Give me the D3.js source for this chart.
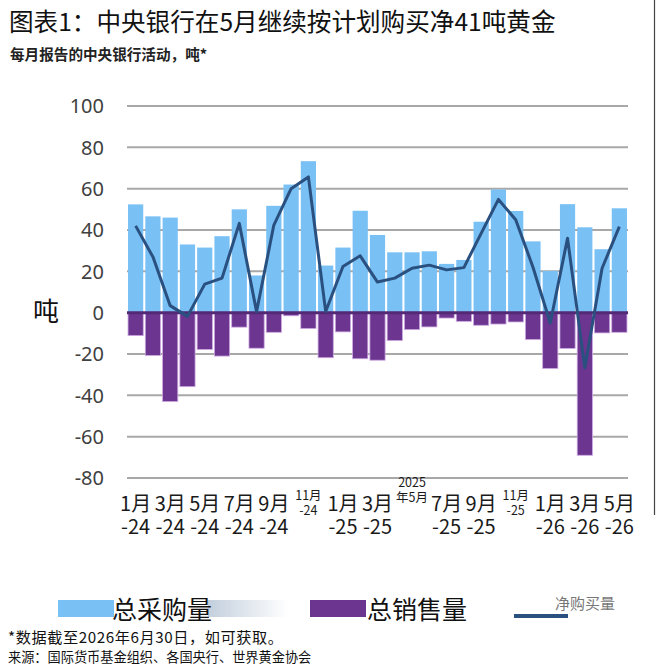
<!DOCTYPE html>
<html lang="zh-CN">
<head>
  <meta charset="utf-8">
  <title>图表1</title>
  <script src="https://d3js.org/d3.v7.min.js"></script>
  <style>
    body { margin: 0; background: #fff; }
    svg { display: block; font-family: "Noto Sans CJK SC", "Noto Sans", sans-serif; }
    .grid line { stroke: #a8a8a8; stroke-width: 2px; }
    .ytick { font-size: 20px; fill: #404040; font-family: "Noto Sans", "Noto Sans CJK SC", sans-serif; }
    .xlab { fill: #1a1a1a; text-anchor: middle; }
  </style>
</head>
<body>
<svg width="660" height="667"></svg>
<script>
// dados (toneladas por mes)
var meses = ["2024-01","2024-02","2024-03","2024-04","2024-05","2024-06","2024-07","2024-08","2024-09","2024-10","2024-11","2024-12",
             "2025-01","2025-02","2025-03","2025-04","2025-05","2025-06","2025-07","2025-08","2025-09","2025-10","2025-11","2025-12",
             "2026-01","2026-02","2026-03","2026-04","2026-05"];
var compras = [52.4, 46.6, 46, 33, 31.5, 37, 50, 18, 51.7, 62, 73.3, 22.8,
               31.5, 49.3, 37.6, 29.2, 29.2, 29.7, 23.6, 25.5, 44, 59.6, 49.2, 34.5,
               20.2, 52.5, 41.3, 30.7, 50.5];
var vendas = [-11.1, -20.7, -43, -35.8, -17.8, -21, -7, -17.2, -9.5, -1.5, -7.7, -21.8,
              -9.3, -22.3, -23, -13.5, -8.2, -6.9, -2.6, -4.2, -6.1, -5.5, -4.5, -13,
              -27, -17.3, -69, -9.8, -9.5];
var liquido = [42, 27, 3.4, -1.8, 13.8, 16.7, 43.2, 0.5, 42.4, 60, 65.7, 0.6,
               22.3, 27.5, 14.8, 16.7, 21.5, 23, 20.7, 21.8, 38.4, 54.8, 45, 22,
               -5, 36, -26.7, 21.5, 41.6];
var yTicks = [-80, -60, -40, -20, 0, 20, 40, 60, 80, 100];

// rotulos do eixo x
var rotMes = ["2024-01","2024-03","2024-05","2024-07","2024-09","2025-01","2025-03","2025-07","2025-09","2026-01","2026-03","2026-05"];
var rotL1 = ["1月","3月","5月","7月","9月","1月","3月","7月","9月","1月","3月","5月"];
var rotL2 = ["-24","-24","-24","-24","-24","-25","-25","-25","-25","-26","-26","-26"];
var rotPeqMes = ["2024-11","2025-05","2025-11"];
var rotPeqL1 = ["11月","2025","11月"];
var rotPeqL2 = ["-24","年5月","-25"];

var titulo = "图表1：中央银行在5月继续按计划购买净41吨黄金";
var subtitulo = "每月报告的中央银行活动，吨*";
var legendas = ["总采购量", "总销售量", "净购买量"];
var notas = ["*数据截至2026年6月30日，如可获取。", "来源：国际货币基金组织、各国央行、世界黄金协会"];

var corCompra = "#79c0f5", corVenda = "#6b3590", corLinha = "#2a5080";

var svg = d3.select("svg");

var x = d3.scaleBand().domain(meses).range([127, 628]).paddingInner(0.12).paddingOuter(0.06),
    y = d3.scaleLinear().domain([-80, 100]).range([478, 106]);

svg.append("text").attr("x", 9).attr("y", 31)
    .style("font-size", "24.6px").attr("fill", "#111").text(titulo);
svg.append("text").attr("x", 10).attr("y", 60)
    .style("font-size", "14.6px").style("font-weight", "bold").attr("fill", "#222").text(subtitulo);

// moldura da direita
svg.append("line").attr("x1", 654.5).attr("x2", 654.5).attr("y1", 0).attr("y2", 515)
    .attr("stroke", "#444").attr("stroke-width", 1.2);

var grid = svg.append("g").attr("class", "grid");
grid.selectAll("line").data(yTicks.filter(function(d) { return d !== 0; })).enter().append("line")
    .attr("x1", 127).attr("x2", 628)
    .attr("y1", function(d) { return y(d); }).attr("y2", function(d) { return y(d); });

svg.append("g").selectAll("text").data(yTicks).enter().append("text")
    .attr("class", "ytick")
    .attr("x", 104).attr("y", function(d) { return y(d); }).attr("dy", "0.36em")
    .attr("text-anchor", "end").text(function(d) { return d; });

svg.append("text").attr("x", 46).attr("y", 321).attr("text-anchor", "middle")
    .style("font-size", "26px").attr("fill", "#111").text("吨");

svg.append("g").selectAll("rect").data(compras).enter().append("rect")
    .attr("x", function(d, i) { return x(meses[i]); })
    .attr("width", x.bandwidth())
    .attr("y", function(d) { return y(d); })
    .attr("height", function(d) { return y(0) - y(d); })
    .attr("fill", corCompra);

svg.append("g").selectAll("rect").data(vendas).enter().append("rect")
    .attr("x", function(d, i) { return x(meses[i]); })
    .attr("width", x.bandwidth())
    .attr("y", y(0))
    .attr("height", function(d) { return y(d) - y(0); })
    .attr("fill", corVenda).attr("stroke", "#cda8e0").attr("stroke-width", 0.8);

svg.append("line").attr("x1", 127).attr("x2", 628).attr("y1", y(0)).attr("y2", y(0))
    .attr("stroke", "#532874").attr("stroke-width", 3);

var linha = d3.line()
    .x(function(d, i) { return x(meses[i]) + x.bandwidth() / 2; })
    .y(function(d) { return y(d); });

svg.append("path").datum(liquido).attr("d", linha)
    .attr("fill", "none").attr("stroke", corLinha).attr("stroke-width", 3).attr("stroke-linejoin", "round");

// eixo x: cada rotulo e um texto so, com duas linhas (tspan)
var cx = function(m) { return x(m) + x.bandwidth() / 2; };
var xl = svg.append("g");
rotMes.forEach(function(m, i) {
  var t = xl.append("text").attr("class", "xlab").attr("y", 511).style("font-size", "20px");
  t.append("tspan").attr("x", cx(m)).text(rotL1[i]);
  t.append("tspan").attr("x", cx(m)).attr("dy", 23).text(rotL2[i]);
});
rotPeqMes.forEach(function(m, i) {
  var base = rotPeqL1[i] === "2025" ? 487 : 500;
  var t = xl.append("text").attr("class", "xlab").attr("y", base).style("font-size", "12.5px");
  t.append("tspan").attr("x", cx(m)).text(rotPeqL1[i]);
  t.append("tspan").attr("x", cx(m)).attr("dy", 15).text(rotPeqL2[i]);
});

// legenda
var defs = svg.append("defs");
var grad = defs.append("linearGradient").attr("id", "borrao");
grad.append("stop").attr("offset", "0%").attr("stop-color", "#c3cfdd");
grad.append("stop").attr("offset", "100%").attr("stop-color", "#ffffff");

svg.append("rect").attr("x", 58).attr("y", 600).attr("width", 56).attr("height", 17).attr("fill", corCompra);
svg.append("rect").attr("x", 208).attr("y", 600).attr("width", 80).attr("height", 17).attr("fill", "url(#borrao)");
svg.append("text").attr("x", 112).attr("y", 619).style("font-size", "25px").attr("fill", "#111").text(legendas[0]);
svg.append("rect").attr("x", 310).attr("y", 600).attr("width", 56).attr("height", 17).attr("fill", corVenda);
svg.append("text").attr("x", 367).attr("y", 619).style("font-size", "25px").attr("fill", "#111").text(legendas[1]);
svg.append("line").attr("x1", 514).attr("x2", 568).attr("y1", 616).attr("y2", 616)
    .attr("stroke", corLinha).attr("stroke-width", 4);
svg.append("text").attr("x", 555).attr("y", 609).style("font-size", "15px").attr("fill", "#777").text(legendas[2]);

svg.append("text").attr("x", 8).attr("y", 643).style("font-size", "15.2px").attr("fill", "#111")
    .attr("textLength", 275).attr("lengthAdjust", "spacing").text(notas[0]);
svg.append("text").attr("x", 8).attr("y", 662).style("font-size", "13.2px").attr("fill", "#111").text(notas[1]);
</script>
</body>
</html>
